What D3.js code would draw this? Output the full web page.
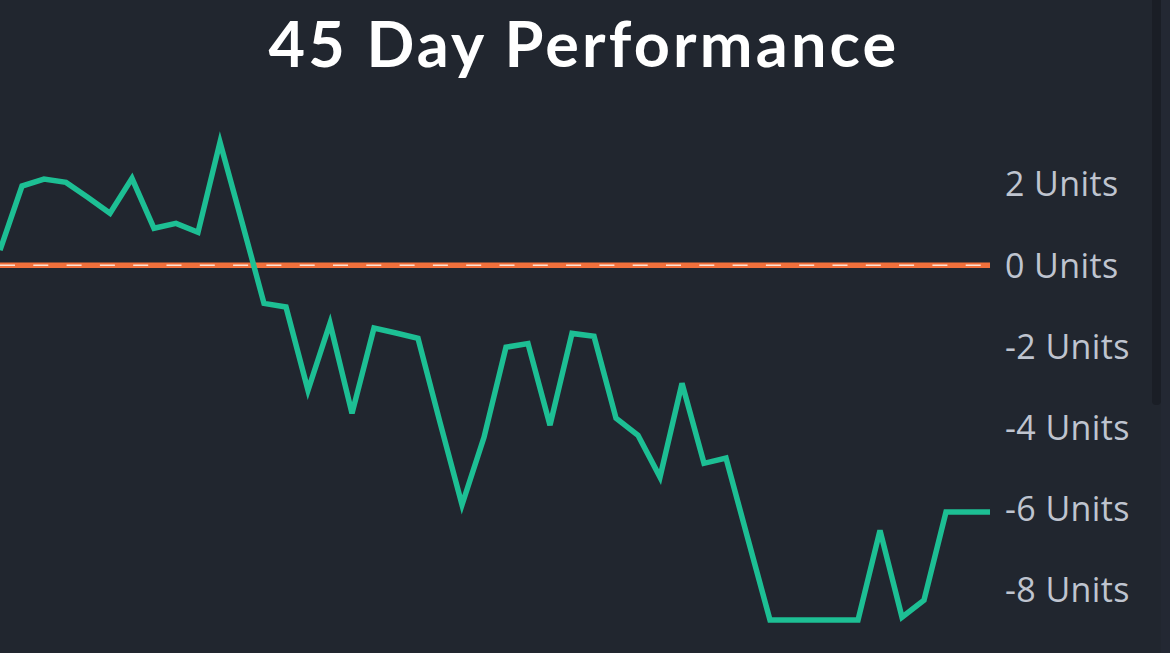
<!DOCTYPE html>
<html>
<head>
<meta charset="utf-8">
<script src="https://cdn.jsdelivr.net/npm/d3@7"></script>
<style>
  html, body { margin: 0; padding: 0; background: #21262f; overflow: hidden; }
  svg { display: block; }
</style>
</head>
<body>
<svg id="chart" width="1170" height="653"></svg>
<script>
const title = "45 Day Performance";
const days = d3.range(0, 46);
const performance = [
  0.37, 1.95, 2.12, 2.04, 1.67, 1.28, 2.14, 0.91, 1.03, 0.81,
  3.03, 1.06, -0.94, -1.03, -3.08, -1.43, -3.65, -1.55, -1.67, -1.80,
  -3.87, -5.90, -4.24, -2.02, -1.93, -3.94, -1.68, -1.75, -3.77, -4.19,
  -5.22, -2.91, -4.88, -4.75, -6.75, -8.74, -8.74, -8.74, -8.74, -8.74,
  -6.53, -8.67, -8.25, -6.08, -6.08, -6.08
];
const yTicks = [2, 0, -2, -4, -6, -8];
const tickLabel = v => `${v} Units`;

const W = 1170, H = 653;
const svg = d3.select("#chart");

svg.append("rect").attr("width", W).attr("height", H).attr("fill", "#21262f");

// scrollbar
svg.append("rect").attr("x", 1161).attr("y", 0).attr("width", 9).attr("height", H).attr("fill", "#232833");
svg.append("rect").attr("x", 1152).attr("y", -10).attr("width", 9).attr("height", 415).attr("rx", 4).attr("fill", "#1a1e26");

const x = d3.scaleLinear().domain([0, 45]).range([0, 990]);
const y = d3.scaleLinear().domain([-8, 2]).range([590, 184]);

svg.append("text")
  .attr("x", 584).attr("y", 67)
  .attr("text-anchor", "middle")
  .attr("fill", "#ffffff")
  .attr("font-family", "Lato, 'Open Sans', sans-serif")
  .attr("font-weight", 700)
  .attr("font-size", 63)
  .attr("letter-spacing", 3.2)
  .text(title);

// y axis labels on the right
const yAxis = d3.axisRight(y).tickValues(yTicks).tickFormat(tickLabel).tickSize(0).tickPadding(0);
const gy = svg.append("g").attr("transform", "translate(1005,0)").call(yAxis);
gy.select(".domain").remove();
gy.selectAll("text")
  .attr("fill", "#bfc4cf")
  .attr("font-family", "'Open Sans', Lato, sans-serif")
  .attr("font-size", 34)
  .attr("letter-spacing", 0.4)
  .attr("dy", "0.35em");

// zero line
svg.append("line")
  .attr("x1", x(0)).attr("x2", x(45))
  .attr("y1", y(0)).attr("y2", y(0))
  .attr("stroke", "#f0703c").attr("stroke-width", 5.5);
svg.append("line")
  .attr("x1", x(0)).attr("x2", x(45))
  .attr("y1", y(0)).attr("y2", y(0))
  .attr("stroke", "#fbe3d6").attr("stroke-width", 1.5)
  .attr("stroke-dasharray", "15,18.3");

const line = d3.line().x((d, i) => x(days[i])).y(d => y(d));
svg.append("path")
  .datum(performance)
  .attr("d", line)
  .attr("fill", "none")
  .attr("stroke", "#1dbf94")
  .attr("stroke-width", 5.5)
  .attr("stroke-linejoin", "miter");
</script>
</body>
</html>
